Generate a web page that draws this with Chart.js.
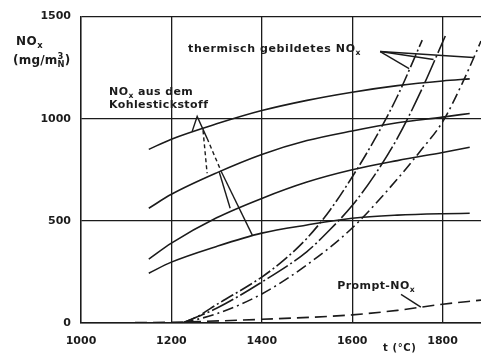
<!DOCTYPE html>
<html>
<head>
<meta charset="utf-8">
<script src="https://cdn.jsdelivr.net/npm/chart.js@4.4.1/dist/chart.umd.min.js"></script>
<style>
  html, body { margin: 0; padding: 0; background: #fff; }
  #wrap { width: 481px; height: 353px; position: relative; }
</style>
</head>
<body>
<div id="wrap"><canvas id="noxChart"></canvas></div>
<script>
// axis ticks: temperature in °C, NOx in mg/m³
const tempTicks = [1000, 1200, 1400, 1600, 1800];
const noxTicks = [0, 500, 1000, 1500];

// NOx from fuel nitrogen, four fuels
const fuelTemps = [1150, 1200, 1300, 1400, 1500, 1600, 1700, 1800, 1860];
const fuelNox1 = [850, 900, 975, 1040, 1090, 1130, 1162, 1185, 1195];
const fuelNox2 = [562, 630, 735, 825, 893, 940, 980, 1008, 1026];
const fuelNox3 = [313, 391, 515, 610, 690, 750, 795, 835, 860];
const fuelNox4 = [244, 298, 375, 440, 480, 513, 528, 535, 537];

// thermal NOx, three residence times
const thermTemps1 = [1225, 1260, 1300, 1400, 1450, 1500, 1550, 1600, 1650, 1700, 1755];
const thermNox1 = [0, 35, 90, 225, 310, 415, 550, 715, 900, 1110, 1385];
const thermTemps2 = [1225, 1300, 1400, 1500, 1550, 1600, 1650, 1700, 1750, 1806];
const thermNox2 = [0, 72, 200, 350, 455, 575, 725, 905, 1125, 1405];
const thermTemps3 = [1225, 1300, 1400, 1500, 1600, 1700, 1750, 1800, 1846, 1885];
const thermNox3 = [0, 45, 142, 285, 465, 705, 840, 985, 1185, 1380];

// prompt NOx
const promptTemps = [1000, 1200, 1400, 1600, 1700, 1800, 1885];
const promptNox = [0, 4, 18, 40, 62, 92, 112];

// leader lines (data units: °C, mg/m³)
const fuelLeaderSolid = [
    [[1246, 938], [1257, 1011], [1279, 904]],
    [[1306, 738], [1330, 562]],
    [[1310, 743], [1379, 430]],
];
const fuelLeaderDashed = [
    [[1270, 943], [1279, 733]],
    [[1279, 904], [1310, 743]],
];
const thermLeader = [
    [[1662, 1329], [1726, 1245]],
    [[1662, 1329], [1780, 1290]],
    [[1662, 1329], [1868, 1300]],
];
const promptLeader = [[[1708, 140], [1752, 78]]];

const ink = '#1b1b1b';
const fontFamily = '"DejaVu Sans", sans-serif';

function pts(xs, ys) {
    return xs.map((x, i) => ({ x, y: ys[i] }));
}

function series(xs, ys, dash) {
    return {
        data: pts(xs, ys),
        borderColor: ink,
        borderWidth: 1.6,
        borderDash: dash || [],
        pointRadius: 0,
        fill: false,
        cubicInterpolationMode: 'monotone',
    };
}

// text with sub/superscripts, left aligned, vertically centred on y
function drawRuns(ctx, parts, x, y, size, spacing) {
    let cx = x;
    ctx.save();
    ctx.fillStyle = ink;
    ctx.textBaseline = 'middle';
    ctx.textAlign = 'left';
    ctx.letterSpacing = (spacing || 0) + 'px';
    parts.forEach((p) => {
        const small = p.sub || p.sup;
        const fs = small ? size * 0.7 : size;
        ctx.font = `bold ${fs}px ${fontFamily}`;
        const dy = p.sub ? size * 0.32 : p.sup ? -size * 0.32 : 0;
        ctx.fillText(p.t, cx, y + dy);
        if (!p.stack) cx += ctx.measureText(p.t).width;
    });
    ctx.restore();
}

const annotations = {
    id: 'annotations',
    afterDatasetsDraw(chart) {
        const { ctx, scales: { x, y } } = chart;
        const px = (v) => x.getPixelForValue(v);
        const py = (v) => y.getPixelForValue(v);

        function strokePaths(paths, dash) {
            ctx.save();
            ctx.strokeStyle = ink;
            ctx.lineWidth = 1.4;
            ctx.setLineDash(dash);
            paths.forEach((path) => {
                ctx.beginPath();
                path.forEach(([t, v], i) => {
                    if (i === 0) ctx.moveTo(px(t), py(v));
                    else ctx.lineTo(px(t), py(v));
                });
                ctx.stroke();
            });
            ctx.restore();
        }

        strokePaths(fuelLeaderSolid, []);
        strokePaths(fuelLeaderDashed, [4, 3]);
        strokePaths(thermLeader, []);
        strokePaths(promptLeader, []);

        drawRuns(ctx, [{ t: 'NO' }, { t: 'x', sub: true }, { t: ' aus dem' }], px(1062), py(1129), 11, 0.4);
        drawRuns(ctx, [{ t: 'Kohlestickstoff' }], px(1062), py(1065), 11, 0.4);
        drawRuns(ctx, [{ t: 'thermisch gebildetes NO' }, { t: 'x', sub: true }], px(1237), py(1339), 11, 0.6);
        drawRuns(ctx, [{ t: 'Prompt-NO' }, { t: 'x', sub: true }], px(1567), py(181), 11, 0.4);
    },
    afterDraw(chart) {
        const { ctx } = chart;
        // axis titles
        drawRuns(ctx, [{ t: 'NO' }, { t: 'x', sub: true }], 16, 42, 12, 0.5);
        drawRuns(ctx, [{ t: '(mg/m' }, { t: '3', sup: true, stack: true }, { t: 'N', sub: true }, { t: ')' }], 13, 61, 12, 0.2);
        drawRuns(ctx, [{ t: 't (°C)' }], 383, 348, 10, 0.6);
    },
};

const tickFont = { family: fontFamily, size: 11, weight: 'bold' };

new Chart(document.getElementById('noxChart'), {
    type: 'line',
    data: {
        datasets: [
            series(fuelTemps, fuelNox1),
            series(fuelTemps, fuelNox2),
            series(fuelTemps, fuelNox3),
            series(fuelTemps, fuelNox4),
            series(thermTemps1, thermNox1, [14, 3, 2, 3]),
            series(thermTemps2, thermNox2, [24, 3, 2, 3]),
            series(thermTemps3, thermNox3, [11, 4, 2, 4]),
            series(promptTemps, promptNox, [12, 6]),
        ],
    },
    options: {
        responsive: true,
        maintainAspectRatio: false,
        animation: false,
        devicePixelRatio: 1,
        layout: { padding: { top: 16, right: 0, bottom: 0, left: 0 } },
        plugins: { legend: { display: false }, tooltip: { enabled: false } },
        scales: {
            x: {
                type: 'linear',
                min: 1000,
                max: 1885,
                border: { display: true, color: ink, width: 1.4 },
                grid: { color: ink, lineWidth: 1.3, drawTicks: false },
                ticks: {
                    padding: 12,
                    maxRotation: 0,
                    color: ink,
                    font: tickFont,
                    callback: (v) => String(v),
                },
                afterBuildTicks: (scale) => { scale.ticks = tempTicks.map((value) => ({ value })); },
                afterFit: (scale) => { scale.height = 30; },
            },
            y: {
                min: 0,
                max: 1500,
                border: { display: true, color: ink, width: 1.4 },
                grid: { color: ink, lineWidth: 1.3, drawTicks: false },
                ticks: {
                    padding: 10,
                    color: ink,
                    font: tickFont,
                    callback: (v) => String(v),
                },
                afterBuildTicks: (scale) => { scale.ticks = noxTicks.map((value) => ({ value })); },
                afterFit: (scale) => { scale.width = 81; },
            },
        },
    },
    plugins: [annotations],
});
</script>
</body>
</html>
